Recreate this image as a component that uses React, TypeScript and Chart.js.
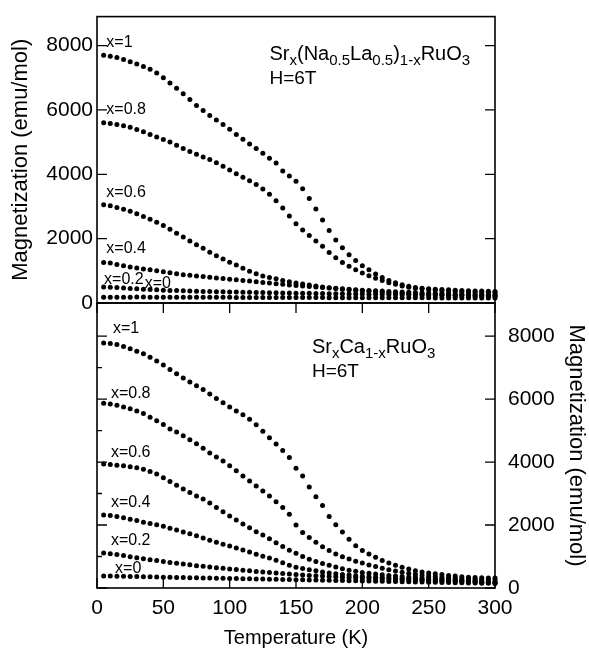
import React, { useEffect, useRef } from "react";
import { Chart, registerables } from "chart.js";
Chart.register(...registerables);

const FONT = "'Liberation Sans', Arial, Helvetica, sans-serif";

// Temperature (K)
const TEMPS = [
  5, 10, 15, 20, 25, 30, 35, 40, 45, 50,
  55, 60, 65, 70, 75, 80, 85, 90, 95, 100,
  105, 110, 115, 120, 125, 130, 135, 140, 145, 150,
  155, 160, 165, 170, 175, 180, 185, 190, 195, 200,
  205, 210, 215, 220, 225, 230, 235, 240, 245, 250,
  255, 260, 265, 270, 275, 280, 285, 290, 295, 300,
];

// Top panel: Srx(Na0.5La0.5)1-xRuO3
const TOP_X1 = [
  7700, 7670, 7630, 7570, 7500, 7430, 7350, 7260, 7150, 7000,
  6840, 6670, 6500, 6320, 6140, 5980, 5830, 5690, 5550, 5400,
  5240, 5090, 4940, 4800, 4650, 4500, 4350, 4100, 3950, 3780,
  3550, 3250, 2920, 2580, 2250, 1960, 1720, 1500, 1320, 1160,
  1030, 900, 790, 700, 630, 570, 520, 480, 460, 440,
  430, 420, 410, 400, 390, 380, 375, 370, 365, 360,
];
const TOP_X08 = [
  5600, 5580, 5550, 5510, 5460, 5390, 5320, 5240, 5160, 5080,
  5000, 4900, 4800, 4710, 4620, 4540, 4460, 4360, 4250, 4130,
  4020, 3910, 3800, 3680, 3540, 3380, 3180, 2950, 2700, 2460,
  2270, 2100, 1930, 1760, 1570, 1410, 1260, 1140, 1030, 930,
  850, 770, 700, 630, 580, 530, 490, 460, 440, 420,
  405, 390, 380, 370, 360, 350, 345, 340, 335, 330,
];
const TOP_X06 = [
  3050, 3020, 2970, 2910, 2850, 2770, 2690, 2600, 2510, 2410,
  2290, 2170, 2050, 1930, 1810, 1700, 1580, 1470, 1370, 1270,
  1180, 1080, 990, 910, 840, 790, 750, 700, 660, 620,
  590, 560, 530, 500, 475, 450, 430, 410, 395, 380,
  365, 350, 335, 320, 310, 300, 290, 280, 270, 262,
  255, 248, 242, 236, 230, 225, 220, 216, 212, 210,
];
const TOP_X04 = [
  1260, 1240, 1200, 1160, 1120, 1090, 1060, 1030, 1000, 970,
  940, 910, 880, 860, 840, 820, 800, 780, 760, 740,
  720, 700, 680, 660, 640, 620, 600, 580, 560, 545,
  530, 515, 500, 485, 470, 455, 440, 425, 410, 400,
  390, 380, 370, 360, 350, 342, 335, 328, 320, 313,
  306, 300, 295, 290, 285, 280, 276, 272, 268, 265,
];
const TOP_X02 = [
  500, 490, 480, 465, 450, 440, 430, 420, 410, 400,
  392, 385, 378, 372, 366, 360, 356, 352, 348, 345,
  340, 336, 332, 328, 324, 320, 316, 312, 309, 306,
  303, 300, 297, 294, 291, 288, 285, 282, 279, 276,
  273, 270, 267, 264, 261, 258, 255, 252, 250, 248,
  246, 244, 242, 240, 238, 236, 234, 232, 230, 228,
];
const TOP_X0 = [
  175, 178, 180, 182, 182, 183, 183, 182, 182, 181,
  180, 180, 179, 178, 178, 177, 176, 176, 175, 175,
  174, 174, 173, 173, 172, 172, 171, 171, 170, 170,
  169, 169, 168, 168, 167, 167, 166, 166, 165, 165,
  164, 164, 163, 163, 162, 162, 161, 161, 160, 160,
  159, 159, 158, 158, 157, 157, 156, 156, 155, 155,
];

// Bottom panel: SrxCa1-xRuO3
const BOT_X1 = [
  7780, 7760, 7730, 7670, 7600, 7520, 7440, 7330, 7210, 7080,
  6940, 6800, 6670, 6540, 6420, 6300, 6160, 6020, 5880, 5750,
  5620, 5500, 5360, 5180, 4980, 4770, 4570, 4370, 4140, 3800,
  3560, 3210, 2900, 2620, 2270, 2010, 1780, 1550, 1340, 1190,
  1080, 980, 870, 790, 720, 660, 600, 550, 510, 475,
  450, 425, 400, 380, 360, 345, 335, 325, 320, 315,
];
const BOT_X08 = [
  5870, 5840, 5800, 5750, 5690, 5620, 5540, 5420, 5310, 5190,
  5050, 4950, 4835, 4710, 4580, 4435, 4290, 4160, 4030, 3880,
  3720, 3560, 3400, 3240, 3080, 2920, 2740, 2560, 2340, 2000,
  1760, 1600, 1450, 1310, 1190, 1080, 990, 920, 850, 790,
  730, 680, 630, 580, 540, 500, 470, 440, 410, 385,
  365, 345, 330, 315, 300, 290, 280, 270, 260, 255,
];
const BOT_X06 = [
  3940, 3920, 3900, 3880, 3850, 3820, 3770, 3700, 3620, 3500,
  3380, 3260, 3140, 3030, 2920, 2830, 2700, 2560, 2420, 2290,
  2160, 2030, 1910, 1790, 1680, 1560, 1440, 1320, 1200, 1100,
  1000, 910, 840, 780, 720, 670, 610, 565, 530, 495,
  470, 445, 420, 400, 380, 365, 350, 340, 328, 315,
  302, 290, 278, 266, 255, 240, 228, 215, 202, 190,
];
const BOT_X04 = [
  2320, 2300, 2270, 2230, 2180, 2140, 2090, 2050, 2010, 1960,
  1900, 1840, 1780, 1720, 1660, 1590, 1520, 1450, 1390, 1330,
  1270, 1210, 1140, 1070, 1010, 950, 880, 800, 720, 660,
  620, 580, 545, 510, 480, 455, 430, 410, 390, 372,
  358, 345, 333, 322, 312, 302, 292, 282, 272, 263,
  254, 245, 237, 229, 221, 210, 197, 185, 172, 160,
];
const BOT_X02 = [
  1110, 1090, 1060, 1030, 990, 960, 930, 900, 870, 840,
  810, 785, 760, 735, 710, 690, 670, 645, 625, 605,
  585, 565, 545, 525, 505, 490, 475, 460, 445, 430,
  415, 400, 390, 378, 366, 355, 345, 335, 325, 315,
  305, 297, 290, 282, 275, 268, 260, 253, 246, 240,
  233, 227, 220, 213, 206, 198, 190, 182, 174, 166,
];
const BOT_X0 = [
  380, 379, 376, 372, 369, 364, 361, 355, 351, 345,
  341, 336, 333, 328, 325, 320, 317, 312, 309, 304,
  301, 296, 293, 288, 285, 280, 277, 272, 269, 264,
  261, 256, 253, 248, 245, 240, 237, 232, 229, 224,
  221, 216, 213, 208, 205, 200, 197, 192, 189, 184,
  181, 176, 173, 168, 165, 160, 157, 152, 149, 144,
];

const TOP_SERIES = [TOP_X1, TOP_X08, TOP_X06, TOP_X04, TOP_X02, TOP_X0];
const BOT_SERIES = [BOT_X1, BOT_X08, BOT_X06, BOT_X04, BOT_X02, BOT_X0];
const SERIES_LABELS = ["x=1", "x=0.8", "x=0.6", "x=0.4", "x=0.2", "x=0"];

const X_TICKS = [0, 50, 100, 150, 200, 250, 300];
const Y_MAJOR = [0, 2000, 4000, 6000, 8000];
const Y_MINOR = [1000, 3000, 5000, 7000];

const TOP_Y_MAX = 8900;
const BOT_Y_MAX = 9050;

// annotation anchors (data coords: temperature, magnetization)
const TOP_LABEL_T = [7, 7, 7, 7, 5.3, 36];
const TOP_LABEL_M = [7970, 5880, 3284, 1552, 597, 478];
const BOT_LABEL_T = [12, 10.5, 10.5, 10.5, 10.5, 13.6];
const BOT_LABEL_M = [8095, 6032, 4159, 2571, 1365, 476];

type Piece = [string, boolean];
const TOP_FORMULA: Piece[] = [
  ["Sr", false], ["x", true], ["(Na", false], ["0.5", true], ["La", false],
  ["0.5", true], [")", false], ["1-x", true], ["RuO", false], ["3", true],
];
const BOT_FORMULA: Piece[] = [
  ["Sr", false], ["x", true], ["Ca", false], ["1-x", true], ["RuO", false], ["3", true],
];

function makeDatasets(series: number[][]) {
  return series.map((vals, si) => ({
    label: SERIES_LABELS[si],
    data: TEMPS.map((t, i) => ({ x: t, y: vals[i] })),
    pointRadius: 2.5,
    pointBackgroundColor: "#000",
    pointBorderWidth: 0,
    showLine: false,
    clip: false as any,
  }));
}

type TickSpec = { vals: number[]; len: number };
type DecoCfg = {
  left: TickSpec[];
  right: TickSpec[];
  top: TickSpec[];
  bottom: TickSpec[];
  labelsT: number[];
  labelsM: number[];
  formula: Piece[];
  formulaT: number;
  formulaM: number;
  hM: number;
};

function decoPlugin(cfg: DecoCfg) {
  return {
    id: "deco",
    afterDatasetsDraw(chart: any) {
      const ctx = chart.ctx as CanvasRenderingContext2D;
      const { left, right, top, bottom } = chart.chartArea;
      const xs = chart.scales.x;
      const ys = chart.scales.y;
      ctx.save();
      ctx.strokeStyle = "#000";
      ctx.lineWidth = 1.6;
      ctx.strokeRect(left, top, right - left, bottom - top);
      ctx.lineWidth = 1.3;
      ctx.beginPath();
      cfg.left.forEach((s) =>
        s.vals.forEach((v) => {
          const y = ys.getPixelForValue(v);
          ctx.moveTo(left, y);
          ctx.lineTo(left + s.len, y);
        })
      );
      cfg.right.forEach((s) =>
        s.vals.forEach((v) => {
          const y = ys.getPixelForValue(v);
          ctx.moveTo(right, y);
          ctx.lineTo(right - s.len, y);
        })
      );
      cfg.top.forEach((s) =>
        s.vals.forEach((v) => {
          const x = xs.getPixelForValue(v);
          ctx.moveTo(x, top);
          ctx.lineTo(x, top + s.len);
        })
      );
      cfg.bottom.forEach((s) =>
        s.vals.forEach((v) => {
          const x = xs.getPixelForValue(v);
          ctx.moveTo(x, bottom);
          ctx.lineTo(x, bottom - s.len);
        })
      );
      ctx.stroke();

      ctx.fillStyle = "#000";
      ctx.textBaseline = "alphabetic";
      ctx.textAlign = "left";
      ctx.font = `16px ${FONT}`;
      SERIES_LABELS.forEach((lab, i) => {
        ctx.fillText(lab, xs.getPixelForValue(cfg.labelsT[i]), ys.getPixelForValue(cfg.labelsM[i]));
      });

      let fx = xs.getPixelForValue(cfg.formulaT);
      const fy = ys.getPixelForValue(cfg.formulaM);
      cfg.formula.forEach(([txt, sub]) => {
        ctx.font = sub ? `15px ${FONT}` : `20px ${FONT}`;
        ctx.fillText(txt, fx, sub ? fy + 5 : fy);
        fx += ctx.measureText(txt).width;
      });
      ctx.font = `19px ${FONT}`;
      ctx.fillText("H=6T", xs.getPixelForValue(cfg.formulaT), ys.getPixelForValue(cfg.hM));
      ctx.restore();
    },
  };
}

const tickFont = { family: FONT, size: 21 };
const yTicksFromData = (s: any) => {
  s.ticks = Y_MAJOR.map((v) => ({ value: v }));
};
const xTicksFromData = (s: any) => {
  s.ticks = X_TICKS.map((v) => ({ value: v }));
};

export default function App() {
  const topRef = useRef<HTMLCanvasElement>(null);
  const botRef = useRef<HTMLCanvasElement>(null);

  useEffect(() => {
    const topChart = new Chart(topRef.current!, {
      type: "scatter",
      data: { datasets: makeDatasets(TOP_SERIES) as any },
      options: {
        responsive: false,
        animation: false,
        layout: { padding: { left: 0, right: 94, top: 5, bottom: 349 } },
        plugins: { legend: { display: false }, tooltip: { enabled: false } },
        scales: {
          x: { type: "linear", display: false, min: 0, max: 300 },
          y: {
            type: "linear",
            position: "left",
            min: 0,
            max: TOP_Y_MAX,
            grid: { display: false, drawTicks: false },
            border: { display: false },
            ticks: {
              padding: 4,
              color: "#000",
              font: tickFont,
              callback: (v: any) => String(v),
            },
            afterBuildTicks: yTicksFromData,
            title: {
              display: true,
              text: "Magnetization (emu/mol)",
              color: "#000",
              font: { family: FONT, size: 22 },
              padding: { top: 8, bottom: 0 },
            },
            afterFit: (s: any) => {
              s.width = 97;
            },
          },
        },
      } as any,
      plugins: [
        decoPlugin({
          left: [{ vals: Y_MAJOR, len: 10 }],
          right: [{ vals: Y_MAJOR, len: 10 }],
          top: [],
          bottom: [],
          labelsT: TOP_LABEL_T,
          labelsM: TOP_LABEL_M,
          formula: TOP_FORMULA,
          formulaT: 130,
          formulaM: 7552,
          hM: 6806,
        }),
      ],
    });

    const botChart = new Chart(botRef.current!, {
      type: "scatter",
      data: { datasets: makeDatasets(BOT_SERIES) as any },
      options: {
        responsive: false,
        animation: false,
        layout: { padding: { left: 97, right: 0, top: 303, bottom: 0 } },
        plugins: { legend: { display: false }, tooltip: { enabled: false } },
        scales: {
          x: {
            type: "linear",
            position: "bottom",
            min: 0,
            max: 300,
            grid: { display: false, drawTicks: false },
            border: { display: false },
            ticks: {
              padding: 8,
              color: "#000",
              font: tickFont,
              maxRotation: 0,
              autoSkip: false,
              callback: (v: any) => String(v),
            },
            afterBuildTicks: xTicksFromData,
            title: {
              display: true,
              text: "Temperature (K)",
              color: "#000",
              font: { family: FONT, size: 20 },
              padding: { top: 0, bottom: 2 },
            },
            afterFit: (s: any) => {
              s.height = 64;
            },
          },
          y: {
            type: "linear",
            position: "right",
            min: 0,
            max: BOT_Y_MAX,
            grid: { display: false, drawTicks: false },
            border: { display: false },
            ticks: {
              padding: 13,
              color: "#000",
              font: tickFont,
              autoSkip: false,
              callback: (v: any) => String(v),
            },
            afterBuildTicks: yTicksFromData,
            title: {
              display: true,
              text: "Magnetization (emu/mol)",
              color: "#000",
              font: { family: FONT, size: 22 },
              padding: { top: 0, bottom: 0 },
            },
            afterFit: (s: any) => {
              s.width = 94;
            },
          },
        },
      } as any,
      plugins: [
        decoPlugin({
          left: [
            { vals: Y_MAJOR, len: 10 },
            { vals: Y_MINOR, len: 5 },
          ],
          right: [{ vals: Y_MAJOR, len: 10 }],
          top: [{ vals: X_TICKS, len: 10 }],
          bottom: [{ vals: X_TICKS, len: 10 }],
          labelsT: BOT_LABEL_T,
          labelsM: BOT_LABEL_M,
          formula: BOT_FORMULA,
          formulaT: 162,
          formulaM: 7460,
          hM: 6698,
        }),
      ],
    });

    return () => {
      topChart.destroy();
      botChart.destroy();
    };
  }, []);

  return (
    <div
      style={{
        position: "fixed",
        left: 0,
        top: 0,
        width: 589,
        height: 652,
        background: "#fff",
      }}
    >
      <canvas
        ref={botRef}
        width={589}
        height={652}
        style={{ position: "absolute", left: 0, top: 0 }}
      />
      <canvas
        ref={topRef}
        width={589}
        height={652}
        style={{ position: "absolute", left: 0, top: 0 }}
      />
    </div>
  );
}
